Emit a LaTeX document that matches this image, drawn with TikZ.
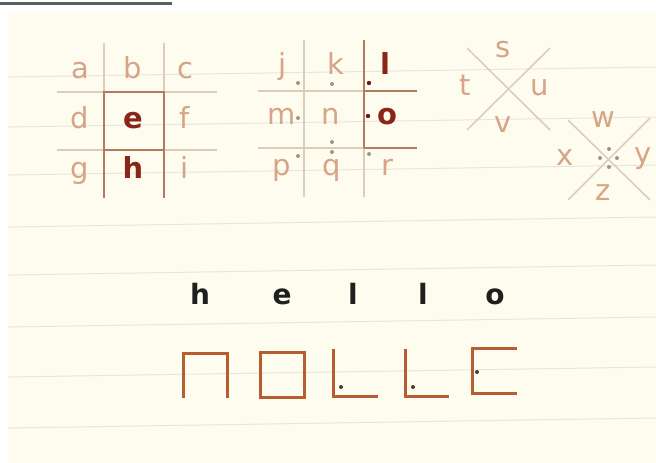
\documentclass[tikz,border=0pt]{standalone}
\usepackage{fontspec}
\setmainfont{DejaVu Sans}
\definecolor{cream}{HTML}{FDFCEE}
\definecolor{rulec}{HTML}{E8E6DC}
\definecolor{topline}{HTML}{56605F}
\definecolor{letlight}{HTML}{D6A487}
\definecolor{letdark}{HTML}{8A2618}
\definecolor{linelight}{HTML}{DCCDB8}
\definecolor{linedark}{HTML}{B27A5E}
\definecolor{xcol}{HTML}{DCCDBE}
\definecolor{ciph}{HTML}{B65E30}
\definecolor{dotlight}{HTML}{A09488}
\definecolor{dotdark}{HTML}{6A1A12}
\definecolor{dotciph}{HTML}{4E3A30}
\begin{document}
\begin{tikzpicture}[x=1pt,y=-1pt,
  lt/.style={anchor=base,inner sep=0pt,text=letlight,font=\fontsize{29}{29}\selectfont},
  dk/.style={anchor=base,inner sep=0pt,text=letdark,font=\fontsize{29}{29}\selectfont\bfseries},
  hl/.style={anchor=base,inner sep=0pt,text=black!88,font=\fontsize{28}{28}\selectfont\bfseries},
  gl/.style={draw=linelight,line width=1.6pt},
  gd/.style={draw=linedark,line width=1.8pt},
  xl/.style={draw=xcol,line width=1.6pt},
  cy/.style={draw=ciph,line width=3pt},
  rl/.style={draw=rulec,line width=1pt},
  dl/.style={fill=dotlight},
  dd/.style={fill=dotdark},
  dc/.style={fill=dotciph}]
% background
\fill[white] (0,0) rectangle (656,463);
\fill[cream] (8,13) rectangle (656,463);
\useasboundingbox (0,0) rectangle (656,463);
\draw[topline,line width=3pt] (0,3) -- (172,3);
% ruled lines
\foreach \yy in {77,127,175,227,275,327,377,428}
  \draw[rl] (8,\yy) -- (656,\yy-10);
% grid 1
\draw[gl] (104,43) -- (104,92);
\draw[gl] (164,43) -- (164,92);
\draw[gl] (57,92) -- (104,92);
\draw[gl] (164,92) -- (217,92);
\draw[gl] (57,150) -- (104,150);
\draw[gl] (164,150) -- (217,150);
\draw[gd] (104,198) -- (104,92) -- (164,92) -- (164,198);
\draw[gd] (104,150) -- (164,150);
\node[lt] (a) at (80,78) {a};
\node[lt] (b) at (133,78) {b};
\node[lt] (c) at (185,78) {c};
\node[lt] (d) at (80,128) {d};
\node[dk] (e) at (133,128) {e};
\node[lt] (f) at (185,128) {f};
\node[lt] (g) at (80,178) {g};
\node[dk] (h) at (133,178) {h};
\node[lt] (i) at (185,178) {i};
% grid 2
\draw[gl] (304,40) -- (304,197);
\draw[gl] (364,148) -- (364,197);
\draw[gl] (258,91) -- (364,91);
\draw[gl] (258,148) -- (364,148);
\draw[gd] (364,40) -- (364,148);
\draw[gd] (364,91) -- (417,91);
\draw[gd] (364,148) -- (417,148);
\node[lt] (j) at (283,74) {j};
\node[lt] (k) at (336,74) {k};
\node[dk] (l) at (385,74) {l};
\node[lt] (m) at (282,124) {m};
\node[lt] (n) at (331,124) {n};
\node[dk] (o) at (387,124) {o};
\node[lt] (p) at (282,175) {p};
\node[lt] (q) at (332,175) {q};
\node[lt] (r) at (387,175) {r};
\fill[dl] (298,83) circle (2);
\fill[dl] (332,84) circle (2);
\fill[dd] (369,83) circle (2.2);
\fill[dl] (298,118) circle (2);
\fill[dl] (332,142) circle (2);
\fill[dd] (368,116) circle (2.2);
\fill[dl] (298,156) circle (2);
\fill[dl] (332,152) circle (2);
\fill[dl] (369,154) circle (2);
% X 1
\draw[xl] (467,48) -- (550,130);
\draw[xl] (550,48) -- (467,130);
\node[lt] (s) at (503,57) {s};
\node[lt] (t) at (465,95) {t};
\node[lt] (u) at (540,95) {u};
\node[lt] (v) at (503,132) {v};
% X 2
\draw[xl] (568,120) -- (650,200);
\draw[xl] (650,118) -- (568,200);
\node[lt] (w) at (603,127) {w};
\node[lt] (x) at (565,165) {x};
\node[lt] (y) at (643,163) {y};
\node[lt] (z) at (603,200) {z};
\fill[dl] (609,149) circle (2);
\fill[dl] (600,158) circle (2);
\fill[dl] (617,158) circle (2);
\fill[dl] (609,167) circle (2);
% hello
\node[hl] (h1) at (200,304) {h};
\node[hl] (h2) at (282,304) {e};
\node[hl] (h3) at (353,304) {l};
\node[hl] (h4) at (423,304) {l};
\node[hl] (h5) at (495,304) {o};
% cipher
\draw[cy] (183,398) -- (183,353) -- (227,353) -- (227,398);
\draw[cy] (260,352) rectangle (304,397);
\draw[cy] (333,349) -- (333,396) -- (378,396);
\fill[dc] (341,387) circle (2);
\draw[cy] (405,349) -- (405,396) -- (449,396);
\fill[dc] (413,387) circle (2);
\draw[cy] (517,348) -- (472,348) -- (472,393) -- (517,393);
\fill[dc] (477,372) circle (2);
\end{tikzpicture}
\end{document}
